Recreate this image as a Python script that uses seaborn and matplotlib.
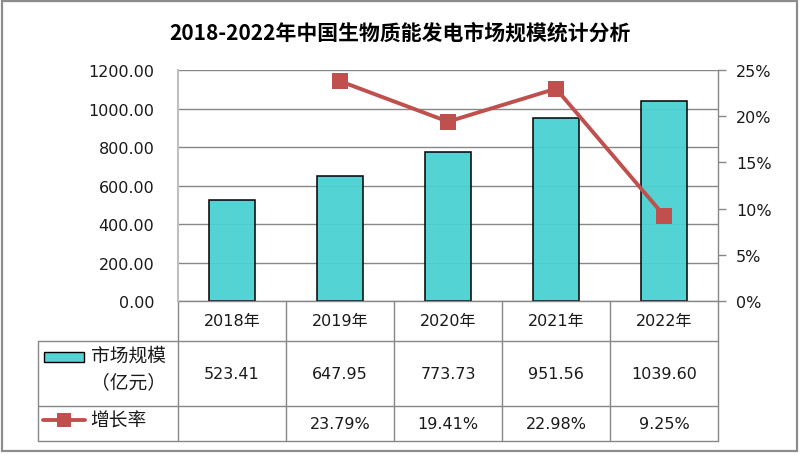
import matplotlib
matplotlib.use("Agg")
import matplotlib.pyplot as plt
import matplotlib.patches as mpatches
from matplotlib.lines import Line2D
import seaborn as sns
import pandas as pd

# ---- data ----
years = ["2018年", "2019年", "2020年", "2021年", "2022年"]
market_size = [523.41, 647.95, 773.73, 951.56, 1039.60]
rate_years = ["2019年", "2020年", "2021年", "2022年"]
growth_rate = [23.79, 19.41, 22.98, 9.25]
left_ticks = [0, 200, 400, 600, 800, 1000, 1200]
right_ticks = [0, 5, 10, 15, 20, 25]
title = "2018-2022年中国生物质能发电市场规模统计分析"
series1_label_a = "市场规模"
series1_label_b = "（亿元）"
series2_label = "增长率"

sns.set_theme(style="white")
plt.rcParams["font.family"] = ["DejaVu Sans", "Noto Sans CJK SC"]
CJK = ["Noto Sans CJK SC", "DejaVu Sans"]

BAR = (0.29, 0.82, 0.82, 0.95)
RED = "#C0504D"
GRID = "#878787"
TXT = "#1a1a1a"

fig = plt.figure(figsize=(8, 4.56), dpi=100)
ax = fig.add_axes([0.2225, 0.3377, 0.675, 0.5066])

df = pd.DataFrame({"year": years, "size": market_size})
sns.barplot(data=df, x="year", y="size", ax=ax, width=0.43, color=BAR[:3],
            edgecolor="black", linewidth=1.1, zorder=2)
for p in ax.patches:
    p.set_facecolor(BAR)
    p.set_edgecolor("black")

ax.set_xlim(-0.5, len(years) - 0.5)
ax.set_ylim(0, 1200)
ax.set_yticks(left_ticks)
ax.set_yticklabels([f"{v:.2f}" for v in left_ticks], fontsize=11.5, color=TXT)
ax.tick_params(axis="y", length=0, pad=17)
ax.set_xticks([])
ax.set_xlabel("")
ax.set_ylabel("")
ax.set_axisbelow(True)
ax.yaxis.grid(True, color=GRID, lw=1)
for s in ["top", "right", "bottom"]:
    ax.spines[s].set_visible(False)
ax.spines["left"].set_color("#BFBFBF")
ax.spines["left"].set_linewidth(1.5)

# ---- secondary axis: growth rate ----
ax2 = ax.twinx()
ax2.set_position(ax.get_position())
pos = [years.index(y) for y in rate_years]
ldf = pd.DataFrame({"x": pos, "rate": growth_rate})
sns.lineplot(data=ldf, x="x", y="rate", ax=ax2, color=RED, lw=2.8,
             marker="s", markersize=11, markeredgewidth=0, zorder=3)
ax2.set_ylim(0, 25)
ax2.set_yticks(right_ticks)
ax2.set_yticklabels([f"{v}%" for v in right_ticks], fontsize=11.5, color=TXT)
ax2.tick_params(axis="y", length=6, width=1, color=GRID, pad=7, direction="out")
ax2.set_ylabel("")
ax2.set_xlabel("")
for s in ["top", "left", "bottom"]:
    ax2.spines[s].set_visible(False)
ax2.spines["right"].set_color(GRID)
ax2.spines["right"].set_linewidth(1)
ax2.set_xlim(-0.5, len(years) - 0.5)
ax2.set_xticks([])

# ---- data table below the plot ----
tr = ax.get_xaxis_transform()
n = len(years)
xl = -1.796
r0, r1, r2, r3 = 0.0, -0.173, -0.4545, -0.606
lc = GRID
def hline(y, x0, x1):
    ax.add_line(Line2D([x0, x1], [y, y], transform=tr, color=lc, lw=1, clip_on=False))
def vline(x, y0, y1):
    ax.add_line(Line2D([x, x], [y0, y1], transform=tr, color=lc, lw=1, clip_on=False))

hline(r0, -0.5, n - 0.5)
hline(r1, xl, n - 0.5)
hline(r2, xl, n - 0.5)
hline(r3, xl, n - 0.5)
for i in range(n + 1):
    vline(i - 0.5, r0, r3)
vline(xl, r1, r3)

for i, y in enumerate(years):
    ax.text(i, (r0 + r1) / 2, y, transform=tr, ha="center", va="center",
            fontsize=11.5, color=TXT, clip_on=False)
for i, v in enumerate(market_size):
    ax.text(i, (r1 + r2) / 2, f"{v:.2f}", transform=tr, ha="center", va="center",
            fontsize=11.5, color=TXT, clip_on=False)
for y, v in zip(rate_years, growth_rate):
    ax.text(years.index(y), (r2 + r3) / 2, f"{v:.2f}%", transform=tr, ha="center",
            va="center", fontsize=11.5, color=TXT, clip_on=False)

# legend keys in header cells
ax.add_patch(mpatches.Rectangle((-1.741, -0.264), 0.371, 0.043, transform=tr,
                                facecolor=BAR, edgecolor="black", lw=1, clip_on=False))
ax.text(-1.31, -0.236, series1_label_a, transform=tr, ha="left", va="center",
        fontsize=13.5, family=CJK, color=TXT, clip_on=False)
ax.text(-0.958, -0.351, series1_label_b, transform=tr, ha="center", va="center",
        fontsize=13.5, family=CJK, color=TXT, clip_on=False)
ax.add_line(Line2D([-1.75, -1.361], [-0.515, -0.515], transform=tr, color=RED,
                   lw=2.8, clip_on=False))
ax.add_line(Line2D([-1.556], [-0.515], transform=tr, color=RED, marker="s",
                   markersize=10, markeredgewidth=0, clip_on=False))
ax.text(-1.31, -0.515, series2_label, transform=tr, ha="left", va="center",
        fontsize=13.5, family=CJK, color=TXT, clip_on=False)

# ---- title and frame ----
fig.text(0.5, 0.928, title, ha="center", va="center", fontsize=15,
         fontweight="bold", family=CJK, color="black")
fig.patches.append(mpatches.Rectangle((0.0025, 0.009), 0.9935, 0.9865,
                                      transform=fig.transFigure, fill=False,
                                      edgecolor="#8c8c8c", lw=1.6))

fig.savefig("out.png", dpi=100)
